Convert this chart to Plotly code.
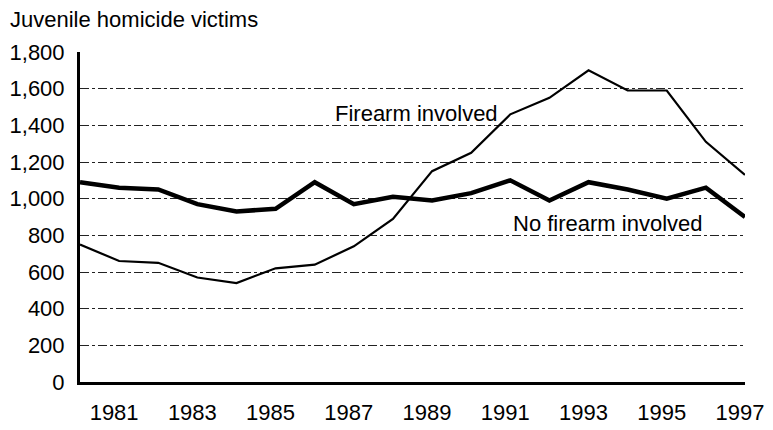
import plotly.graph_objects as go

years = list(range(1980, 1998))
firearm = [750, 660, 650, 570, 540, 620, 640, 740, 890, 1150,
           1250, 1460, 1550, 1700, 1590, 1590, 1310, 1130]
no_firearm = [1090, 1060, 1050, 970, 930, 945, 1090, 970, 1010, 990,
              1030, 1100, 990, 1090, 1050, 1000, 1060, 900]
year_ticks = [1981, 1983, 1985, 1987, 1989, 1991, 1993, 1995, 1997]
y_ticks = [0, 200, 400, 600, 800, 1000, 1200, 1400, 1600, 1800]

font = "Liberation Sans, Arial, sans-serif"

fig = go.Figure()

fig.add_trace(go.Scatter(
    x=years, y=firearm,
    mode='lines',
    line=dict(color='black', width=2.2),
    name='Firearm involved',
    showlegend=False
))
fig.add_trace(go.Scatter(
    x=years, y=no_firearm,
    mode='lines',
    line=dict(color='black', width=4.5),
    name='No firearm involved',
    showlegend=False
))

fig.add_annotation(x=1988.6, y=1467, text="Firearm involved", showarrow=False,
                   font=dict(family=font, size=22, color='black'))
fig.add_annotation(x=1993.5, y=862, text="No firearm involved", showarrow=False,
                   font=dict(family=font, size=22, color='black'))
fig.add_annotation(x=0, y=1, xref='paper', yref='paper', xanchor='left', yanchor='bottom',
                   xshift=-72, yshift=18,
                   text="Juvenile homicide victims", showarrow=False,
                   font=dict(family=font, size=22, color='black'))

# page has an 8px body margin, so the figure is a bit smaller than the window
fig.update_layout(
    width=765, height=422,
    margin=dict(l=72, r=28, t=44, b=48),
    paper_bgcolor='white',
    plot_bgcolor='white',
    font=dict(family=font, color='black'),
    xaxis=dict(
        range=[1980, 1997],
        tickvals=year_ticks,
        ticktext=[str(y) for y in year_ticks],
        showgrid=False, zeroline=False,
        showline=True, linecolor='black', linewidth=3,
        ticks='', tickfont=dict(size=22),
        tickangle=0, automargin=False,
        ticklabelstandoff=9,
        ticklabelshift=-5
    ),
    yaxis=dict(
        range=[0, 1800],
        tickvals=y_ticks,
        tickformat=',',
        showgrid=True, gridcolor='#222', gridwidth=1, griddash='dashdot',
        zeroline=False,
        showline=True, linecolor='black', linewidth=3,
        ticks='', tickfont=dict(size=22),
        automargin=False,
        ticklabelstandoff=8
    )
)

fig.write_html("out.html")
